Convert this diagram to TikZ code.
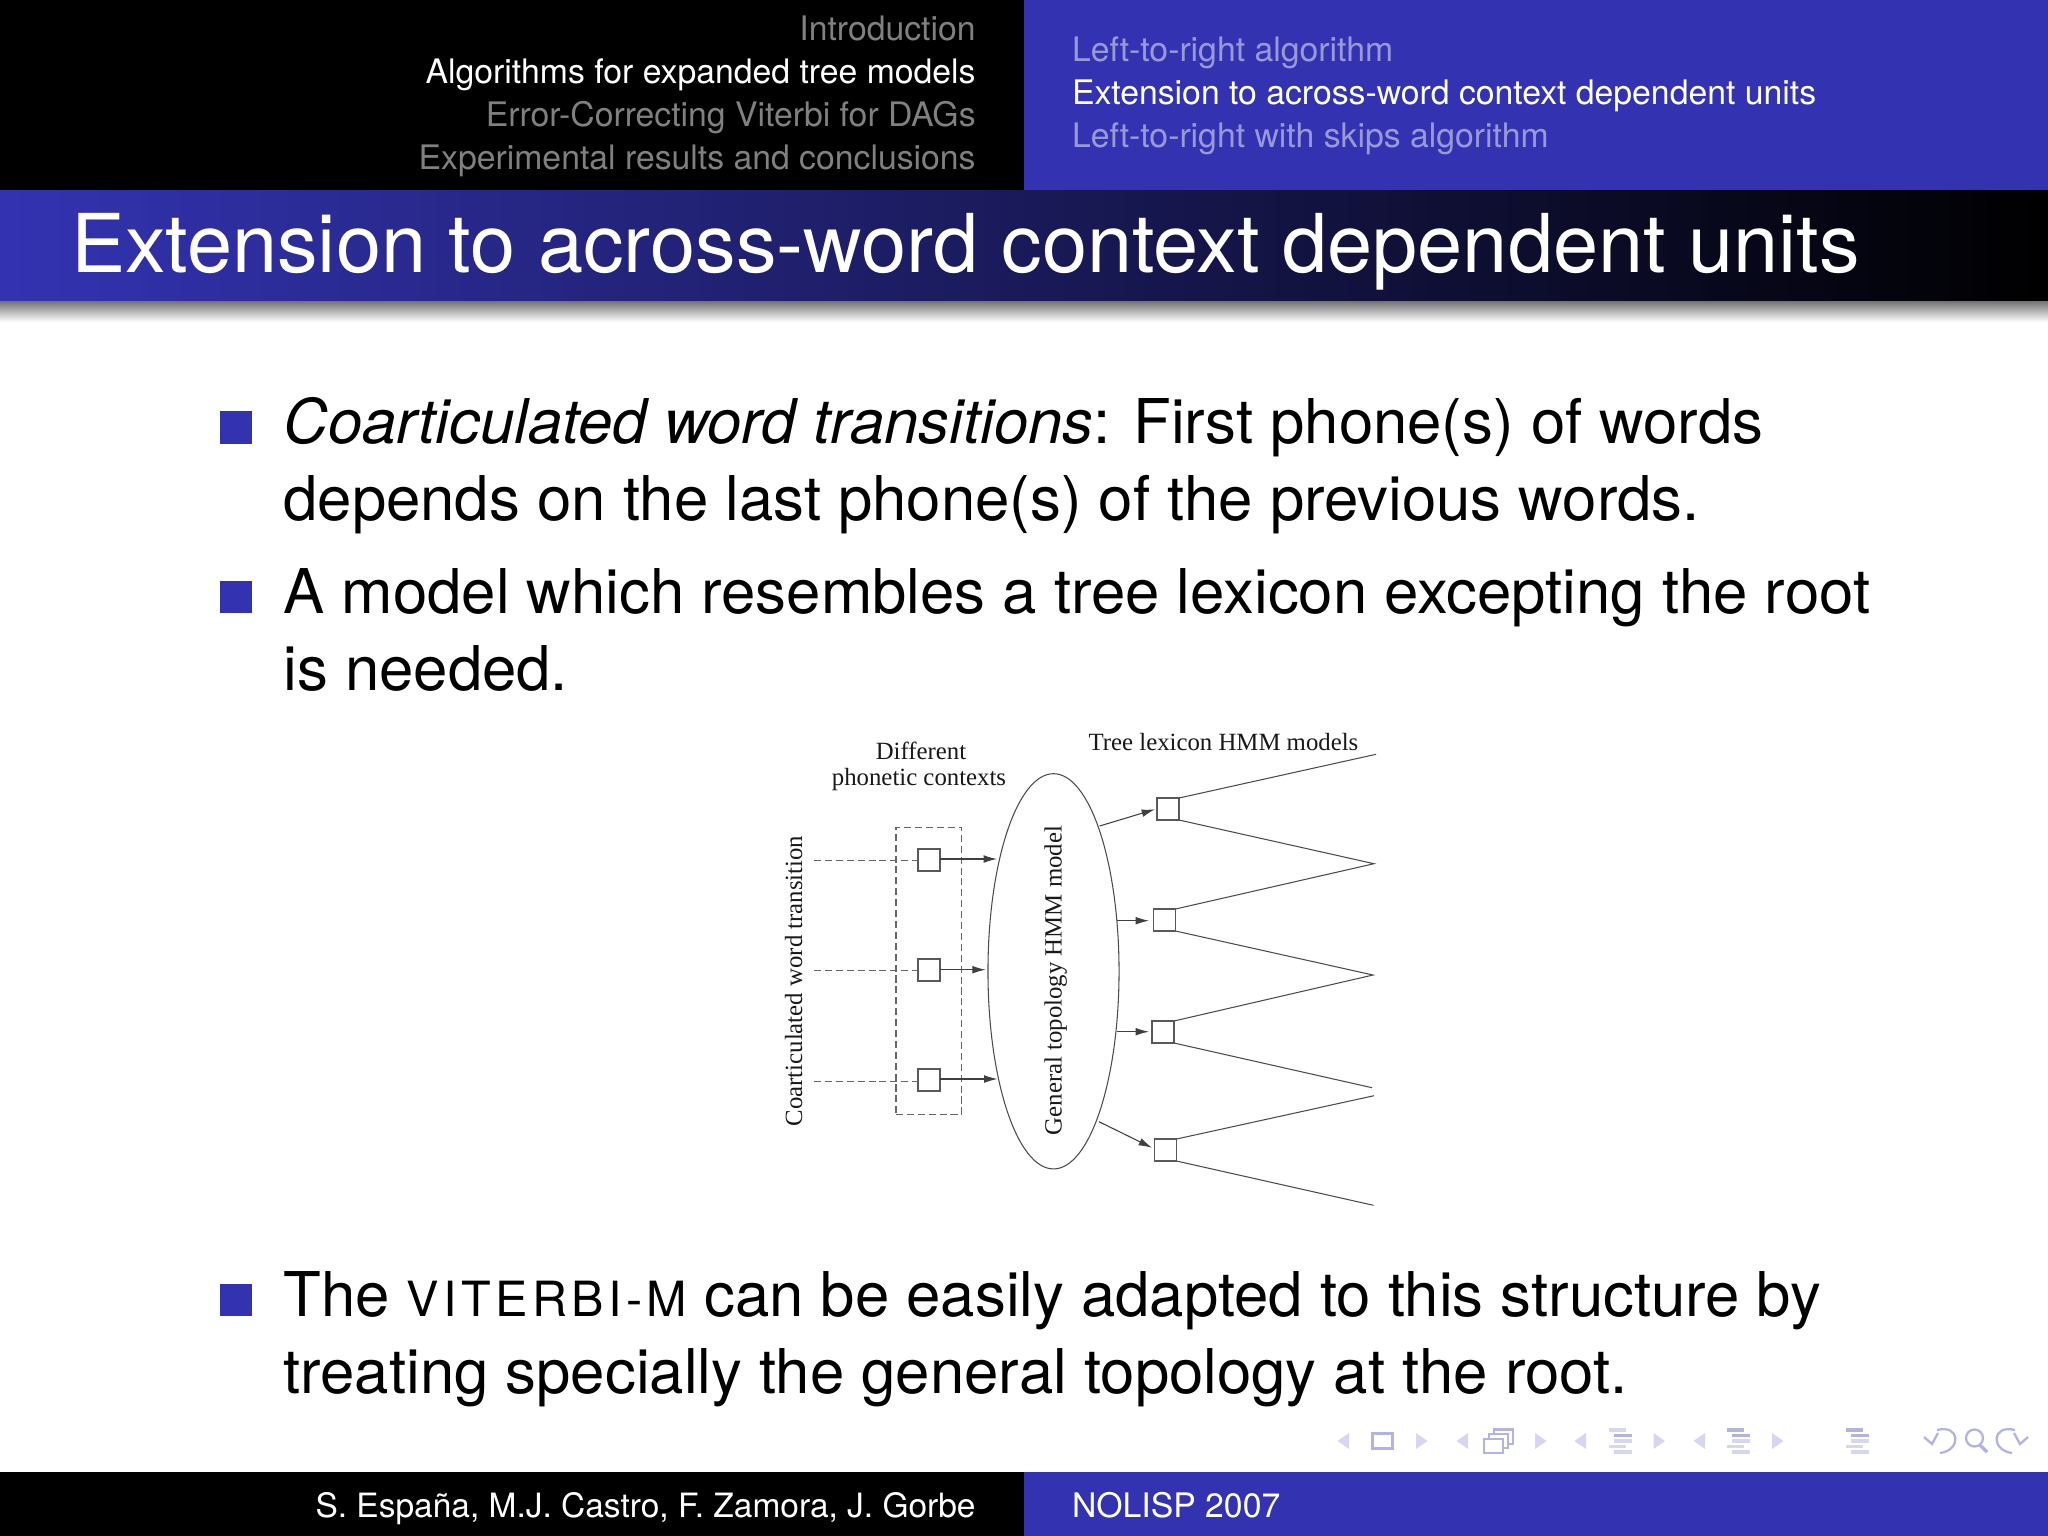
\documentclass[tikz,border=0pt]{standalone}
\usepackage{fontspec}
\setmainfont{TeX Gyre Heros}
\newfontfamily\figfont{Liberation Serif}
\usetikzlibrary{arrows.meta,shapes.geometric}
\definecolor{structblue}{rgb}{0.2,0.2,0.7}
\definecolor{navdim}{HTML}{D6D6F0}
\definecolor{navmid}{HTML}{B3B3E1}
\tikzset{
  txt/.style={inner sep=0pt, outer sep=0pt},
  headleft/.style={txt, anchor=base east, font=\fontsize{9.6}{11}\selectfont},
  headright/.style={txt, anchor=base west, font=\fontsize{9.6}{11}\selectfont},
  bodyline/.style={txt, anchor=base west, font=\fontsize{17.54}{21}\selectfont},
  bulletbox/.style={fill=structblue, draw=none, minimum size=0.32cm, inner sep=0pt},
  figlabel/.style={txt, font=\figfont\fontsize{7.05}{8}\selectfont, text=black!90},
  sqbox/.style={draw=black!65, line width=0.3pt, fill=white, minimum size=0.22cm, inner sep=0pt, outer sep=0pt},
  fanline/.style={draw=black!70, line width=0.3pt},
  arrowline/.style={draw=black!75, line width=0.3pt, -{Latex[length=3.8pt, width=2.2pt]}},
  dashline/.style={draw=black!60, line width=0.3pt, dash pattern=on 2pt off 1.1pt},
  navtri/.style={fill=navdim, draw=none},
  navbar/.style={line width=1pt},
  navstroke/.style={draw=navmid, line width=0.65pt}
}
\begin{document}
\begin{tikzpicture}[x=0.01cm, y=-0.01cm]
  \useasboundingbox (0,0) rectangle (2048,1536);
  % bars
  \fill[white] (0,0) rectangle (2048,1536);
  \fill[black] (0,0) rectangle (1024,190);
  \fill[structblue] (1024,0) rectangle (2048,190);
  \shade[left color=structblue, right color=black] (0,190) rectangle (2048,301);
  \shade[top color=black!55, bottom color=white] (0,301) rectangle (2048,322);
  \fill[black] (0,1472) rectangle (1024,1536);
  \fill[structblue] (1024,1472) rectangle (2048,1536);
  % headline
  \node[headleft, text=black!50!white] (secA) at (975.6,40) {Introduction};
  \node[headleft, text=white] (secB) at (975.6,83) {Algorithms for expanded tree models};
  \node[headleft, text=black!50!white] (secC) at (975.6,126) {Error-Correcting Viterbi for DAGs};
  \node[headleft, text=black!50!white] (secD) at (975.6,169) {Experimental results and conclusions};
  \node[headright, text=structblue!50!white] (subA) at (1072,61) {Left-to-right algorithm};
  \node[headright, text=white] (subB) at (1072,104) {Extension to across-word context dependent units};
  \node[headright, text=structblue!50!white] (subC) at (1072,147) {Left-to-right with skips algorithm};
  \node[txt, anchor=base west, text=white, font=\fontsize{23.08}{26}\selectfont] (title) at (71,272) {Extension to across-word context dependent units};
  % body
  \foreach \n/\y in {a/427.5,b/597.3,c/1300.3} \node[bulletbox] (bullet\n) at (236.4,\y) {};
  \node[bodyline] (lineA) at (283.5,443.3) {\textit{Coarticulated word transitions}: First phone(s) of words};
  \node[bodyline] (lineB) at (283.5,520) {depends on the last phone(s) of the previous words.};
  \node[bodyline] (lineC) at (283.5,613.3) {A model which resembles a tree lexicon excepting the root};
  \node[bodyline] (lineD) at (283.5,690) {is needed.};
  \node[bodyline] (lineE) at (283.5,1316.7) {The {\fontsize{13.8}{16}\selectfont\addfontfeature{LetterSpace=9}VITERBI-M} can be easily adapted to this structure by};
  \node[bodyline] (lineF) at (283.5,1393) {treating specially the general topology at the root.};
  % figure
  \node[draw=black!70, line width=0.3pt, ellipse, minimum width=1.31cm, minimum height=3.95cm, inner sep=0pt] (model) at (1053.5,971.3) {};
  \node[draw=black!60, line width=0.3pt, dash pattern=on 2pt off 1.1pt, minimum width=0.656cm, minimum height=2.87cm, inner sep=0pt] (ctxbox) at (928.8,970.6) {};
  \foreach \n/\y in {1/860,2/970,3/1080} \node[sqbox] (in\n) at (929,\y) {};
  \foreach \n/\x/\y in {1/1168/809,2/1164.5/920,3/1163/1032,4/1165.5/1150} \node[sqbox] (out\n) at (\x,\y) {};
  \foreach \n/\y in {1/860.3,2/970.3,3/1081.3} {
    \coordinate (src\n) at (814,\y);
    \draw[dashline] (src\n) -- (src\n -| in\n.west);
  }
  \coordinate (hitA) at (997,859);
  \coordinate (hitB) at (985.7,969.7);
  \coordinate (hitC) at (997.5,1079);
  \draw[arrowline] (in1.east |- hitA) -- (hitA);
  \draw[arrowline] (in2.east |- hitB) -- (hitB);
  \draw[arrowline] (in3.east |- hitC) -- (hitC);
  \coordinate (outA) at (1099.6,826);
  \coordinate (outB) at (1117,920.7);
  \coordinate (outC) at (1117,1031.7);
  \coordinate (outD) at (1099,1121.7);
  \draw[arrowline] (outA) -- (1155,809.3);
  \draw[arrowline] (outB) -- (1149,920.7);
  \draw[arrowline] (outC) -- (1149,1031.7);
  \draw[arrowline] (outD) -- (1152,1147.7);
  \coordinate (tipA) at (1376,754.3);
  \coordinate (tipB) at (1374,863.7);
  \coordinate (tipC) at (1373,975);
  \coordinate (tipD) at (1372,1087.7);
  \coordinate (tipE) at (1374,1095.7);
  \coordinate (tipF) at (1373.5,1205.3);
  \draw[fanline] (out1.north east) -- (tipA);
  \draw[fanline] (out1.south east) -- (tipB) -- (out2.north east);
  \draw[fanline] (out2.south east) -- (tipC) -- (out3.north east);
  \draw[fanline] (out3.south east) -- (tipD);
  \draw[fanline] (out4.north east) -- (tipE);
  \draw[fanline] (out4.south east) -- (tipF);
  \node[figlabel, anchor=base] (labelTree) at (1223.5,750) {Tree lexicon HMM models};
  \node[figlabel, anchor=base] (labelDiff) at (921,759) {Different};
  \node[figlabel, anchor=base] (labelPhon) at (919,785) {phonetic contexts};
  \node[figlabel, anchor=base, rotate=90] (labelCoart) at (802,981) {Coarticulated word transition};
  \node[figlabel, anchor=base, rotate=90] (labelModel) at (1061.5,980.5) {General topology HMM model};
  % navigation symbols
  \foreach \x/\d in {1349/-1,1416/1,1468/-1,1535/1,1586/-1,1653.5/1,1705/-1,1772/1}
    \fill[navtri] (\x,1433) -- (\x,1449) -- (\x+\d*11.5,1441) -- cycle;
  \draw[navstroke] (1372.5,1433.5) rectangle (1392.5,1448.5);
  \draw[navstroke, fill=white] (1494,1429.5) rectangle (1513,1444);
  \draw[navstroke, fill=white] (1489,1434) rectangle (1508,1448);
  \draw[navstroke, fill=white] (1484,1439) rectangle (1503,1453);
  \foreach \x/\c in {1609/navdim,1727/navmid,1846/navmid} {
    \draw[navbar, draw=\c] (\x,1430) -- (\x+17,1430);
    \draw[navbar, draw=navmid] (\x+5,1435.5) -- (\x+23,1435.5);
    \draw[navbar, draw=navdim] (\x+5,1441) -- (\x+23,1441);
    \draw[navbar, draw=navdim] (\x,1446.5) -- (\x+17,1446.5);
    \draw[navbar, draw=navdim] (\x+5,1452) -- (\x+23,1452);
  }
  \draw[navstroke] (1940,1453) .. controls (1962,1450) and (1960,1424) .. (1937,1430);
  \draw[navstroke] (1924,1437) -- (1932,1444) -- (1938,1433);
  \draw[navstroke] (1974.5,1438) circle (8.5);
  \draw[navstroke, line width=1pt] (1980,1445) -- (1987,1452);
  \draw[navstroke] (2012,1453) .. controls (1990,1450) and (1992,1424) .. (2015,1430);
  \draw[navstroke] (2028,1437) -- (2020,1444) -- (2014,1433);
  % footline
  \node[txt, anchor=base east, text=white, font=\fontsize{9.52}{11}\selectfont] (authors) at (975.6,1517) {S. España, M.J. Castro, F. Zamora, J. Gorbe};
  \node[txt, anchor=base west, text=white, font=\fontsize{9.6}{11}\selectfont] (event) at (1072,1517) {NOLISP 2007};
\end{tikzpicture}
\end{document}
